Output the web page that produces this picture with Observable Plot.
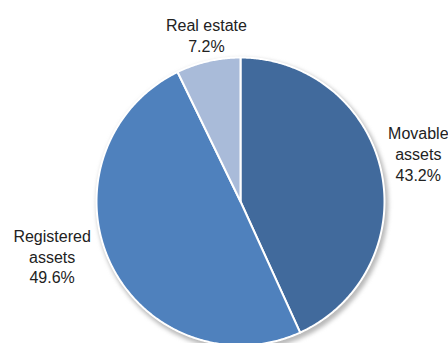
<!DOCTYPE html>
<html><head><meta charset="utf-8">
<script src="https://cdn.jsdelivr.net/npm/d3@7"></script>
<script src="https://cdn.jsdelivr.net/npm/@observablehq/plot@0.6"></script>
<style>html,body{margin:0;padding:0;background:#fff;overflow:hidden;}</style>
</head><body><div id="chart"></div>
<script>
// Data
const categories = ["Movable assets", "Registered assets", "Real estate"];
const labelNames = ["Movable\nassets", "Registered\nassets", "Real estate"];
const shares = [43.2, 49.6, 7.2];
const colors = ["#416a9c", "#4f81bd", "#a9bbd9"];

// Layout (pixels)
const W = 448, H = 343, R = 144, CX = 240, CY = 201;
const font = "'Liberation Sans', Arial, sans-serif";
const nudge = {"Movable assets": [-3, -10], "Registered assets": [-21, -23], "Real estate": [9, 0]};

const table = categories.map((c, i) => ({name: c, label: labelNames[i], share: shares[i]}));
const arcs = d3.pie().sort(null).value(d => d.share)(table);

// polygon points for every slice (unit circle, y up)
const pts = [];
for (const a of arcs) {
  pts.push({name: a.data.name, x: 0, y: 0});
  const n = Math.max(2, Math.ceil((a.endAngle - a.startAngle) / (Math.PI / 360)));
  for (let k = 0; k <= n; k++) {
    const t = a.startAngle + (a.endAngle - a.startAngle) * k / n;
    pts.push({name: a.data.name, x: Math.sin(t), y: Math.cos(t)});
  }
}

// label positions: outside end, box pushed away from the pie
const lineH = 21;
const labels = arcs.map(a => {
  const m = (a.startAngle + a.endAngle) / 2;
  const dx = Math.sin(m), dy = Math.cos(m);
  const lines = a.data.label.split("\n").length + 1;
  const w = a.data.name === "Real estate" ? 84 : 70;
  const h = lines * lineH;
  const pad = 6;
  const nd = nudge[a.data.name];
  const px = (R + pad) * dx + dx * w / 2 + nd[0];
  const py = (R + pad) * dy + dy * h / 2 - nd[1];
  return {name: a.data.name, text: a.data.label + "\n" + d3.format(".1f")(a.data.share) + "%", x: px / R, y: py / R};
});

const center = [{x: 0, y: 0}];

const chart = Plot.plot({
  width: W, height: H,
  margin: 0,
  x: {domain: [-CX / R, (W - CX) / R], axis: null},
  y: {domain: [-(H - CY) / R, CY / R], axis: null},
  color: {domain: categories, range: colors},
  style: {fontFamily: font, background: "#fff", overflow: "visible"},
  marks: [
    Plot.dot(center, {x: "x", y: "y", r: R + 2, fill: "#8a8a8a", fillOpacity: 0.6, dx: 2, dy: 3, stroke: "none", imageFilter: "blur(2px)"}),
    Plot.line(pts, {x: "x", y: "y", z: "name", fill: "name", stroke: "#fff", strokeWidth: 2, curve: "linear-closed", strokeLinejoin: "round"}),
    Plot.text(labels, {x: "x", y: "y", text: "text", fontSize: 16, lineHeight: lineH / 16, fill: "#222", fontFamily: font, textAnchor: "middle", lineAnchor: "middle"})
  ]
});
document.getElementById("chart").append(chart);
</script>
</body></html>
